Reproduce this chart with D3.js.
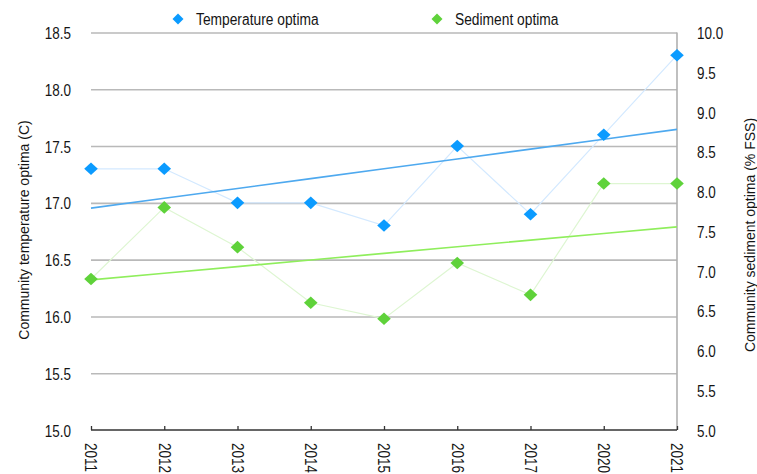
<!DOCTYPE html>
<html>
<head>
<meta charset="utf-8">
<script src="https://cdn.jsdelivr.net/npm/d3@7"></script>
<style>
  html, body { margin: 0; padding: 0; background: #fff; }
  svg { display: block; font-family: "Liberation Sans", Arial, sans-serif; }
</style>
</head>
<body>
<svg id="chart" width="757" height="474"></svg>
<script>
// Survey years (categories)
const years = ["2011", "2012", "2013", "2014", "2015", "2016", "2017", "2020", "2021"];
// Community temperature optima (°C), left axis
const temperatureOptima = [17.3, 17.3, 17.0, 17.0, 16.8, 17.5, 16.9, 17.6, 18.3];
// Community sediment optima (% FSS), right axis
const sedimentOptima = [6.9, 7.8, 7.3, 6.6, 6.4, 7.1, 6.7, 8.1, 8.1];
// Axis tick values
const leftTicks = [15.0, 15.5, 16.0, 16.5, 17.0, 17.5, 18.0, 18.5];
const rightTicks = [5.0, 5.5, 6.0, 6.5, 7.0, 7.5, 8.0, 8.5, 9.0, 9.5, 10.0];

const seriesColors = { temp: "#0b9bff", sed: "#5fd23a" };
const connectColors = { temp: "#d3e9ff", sed: "#def6d2" };
const trendColors = { temp: "#4ea9ef", sed: "#8fee5c" };
const textColor = "#151515";

const svg = d3.select("#chart");
const plotL = 91, plotR = 677, plotT = 32.5, plotB = 430;

const x = d3.scalePoint().domain(years).range([plotL, plotR]).padding(0);
const yL = d3.scaleLinear().domain([15, 18.5]).range([plotB, plotT]);
const yR = d3.scaleLinear().domain([5, 10]).range([plotB, plotT]);

// Horizontal gridlines (skip the baseline, drawn by the category axis)
svg.append("g")
  .attr("transform", `translate(${plotL},0)`)
  .call(d3.axisLeft(yL).tickValues(leftTicks.filter(v => v > 15)).tickSize(-(plotR - plotL)).tickFormat(""))
  .call(g => g.select(".domain").remove())
  .call(g => g.selectAll("line").attr("stroke", "#b9b9b9").attr("stroke-width", 1.6));

// Right-hand frame line
svg.append("line")
  .attr("x1", plotR).attr("x2", plotR).attr("y1", plotT).attr("y2", plotB)
  .attr("stroke", "#b0b0b0").attr("stroke-width", 1.6);

// Left axis labels
svg.append("g")
  .attr("transform", `translate(${plotL},0)`)
  .call(d3.axisLeft(yL).tickValues(leftTicks).tickSize(0).tickPadding(20).tickFormat(d3.format(".1f")))
  .call(g => g.select(".domain").remove())
  .call(g => g.selectAll("text")
    .attr("fill", textColor).attr("font-size", 16)
    .attr("x", null).attr("dy", "0.36em")
    .attr("transform", "translate(-20,0) scale(0.84,1.05)")
    .attr("font-family", "'Liberation Sans', Arial, sans-serif"));

// Right axis labels
svg.append("g")
  .attr("transform", `translate(${plotR},0)`)
  .call(d3.axisRight(yR).tickValues(rightTicks).tickSize(0).tickFormat(d3.format(".1f")))
  .call(g => g.select(".domain").remove())
  .call(g => g.selectAll("text")
    .attr("fill", textColor).attr("font-size", 16)
    .attr("x", null).attr("dy", "0.36em")
    .attr("transform", "translate(20,0) scale(0.84,1.05)")
    .attr("font-family", "'Liberation Sans', Arial, sans-serif"));

// Category axis with upward ticks and vertical year labels
svg.append("g")
  .attr("transform", `translate(0,${plotB})`)
  .call(d3.axisBottom(x).tickSizeInner(-4).tickSizeOuter(0))
  .call(g => g.select(".domain").attr("stroke", "#333").attr("stroke-width", 1.6)
    .attr("d", `M${plotL},0H${plotR}`))
  .call(g => g.selectAll(".tick line").attr("stroke", "#333").attr("stroke-width", 1.3))
  .call(g => g.selectAll(".tick text")
    .attr("fill", textColor).attr("font-size", 16)
    .attr("y", null).attr("dy", "0.36em")
    .attr("text-anchor", "start")
    .attr("transform", "translate(0,13) rotate(90) scale(0.84,1.05)")
    .attr("font-family", "'Liberation Sans', Arial, sans-serif"));

// Axis titles
svg.append("text")
  .attr("transform", "translate(29,230) rotate(-90)")
  .attr("text-anchor", "middle")
  .attr("font-size", 14).attr("fill", textColor)
  .text("Community temperature optima (C)");

svg.append("text")
  .attr("transform", "translate(755,235) rotate(-90)")
  .attr("text-anchor", "middle")
  .attr("font-size", 14).attr("fill", textColor)
  .text("Community sediment optima (% FSS)");

// Least-squares trend over the category index
function trend(values) {
  const n = values.length;
  const xs = d3.range(n);
  const mx = d3.mean(xs), my = d3.mean(values);
  const sxy = d3.sum(xs, i => (i - mx) * (values[i] - my));
  const sxx = d3.sum(xs, i => (i - mx) * (i - mx));
  const b = sxy / sxx, a = my - b * mx;
  return xs.map(i => a + b * i);
}

const diamond = (w, h) => `M0,${-h}L${w},0L0,${h}L${-w},0Z`;

function drawSeries(values, yScale, key) {
  const line = d3.line().x((d, i) => x(years[i])).y(d => yScale(d));
  // thin connector between observations
  svg.append("path").datum(values)
    .attr("d", line).attr("fill", "none")
    .attr("stroke", connectColors[key]).attr("stroke-width", 1.2);
  // linear trend
  svg.append("path").datum(trend(values))
    .attr("d", line).attr("fill", "none")
    .attr("stroke", trendColors[key]).attr("stroke-width", 1.6);
  // markers
  svg.append("g").selectAll("path")
    .data(values).join("path")
    .attr("transform", (d, i) => `translate(${x(years[i])},${yScale(d)})`)
    .attr("d", diamond(6.8, 6.3))
    .attr("fill", seriesColors[key]);
}

drawSeries(sedimentOptima, yR, "sed");
drawSeries(temperatureOptima, yL, "temp");

// Legend
const legendItems = [
  { label: "Temperature optima", key: "temp", x: 178 },
  { label: "Sediment optima", key: "sed", x: 437 }
];
const lg = svg.append("g").selectAll("g").data(legendItems).join("g")
  .attr("transform", d => `translate(${d.x},19)`);
lg.append("path").attr("d", diamond(5.5, 5.5)).attr("fill", d => seriesColors[d.key]);
lg.append("text")
  .attr("transform", "translate(18,0) scale(0.92,1.08)")
  .attr("dy", "0.36em")
  .attr("font-size", 15).attr("fill", textColor)
  .text(d => d.label);
</script>
</body>
</html>
